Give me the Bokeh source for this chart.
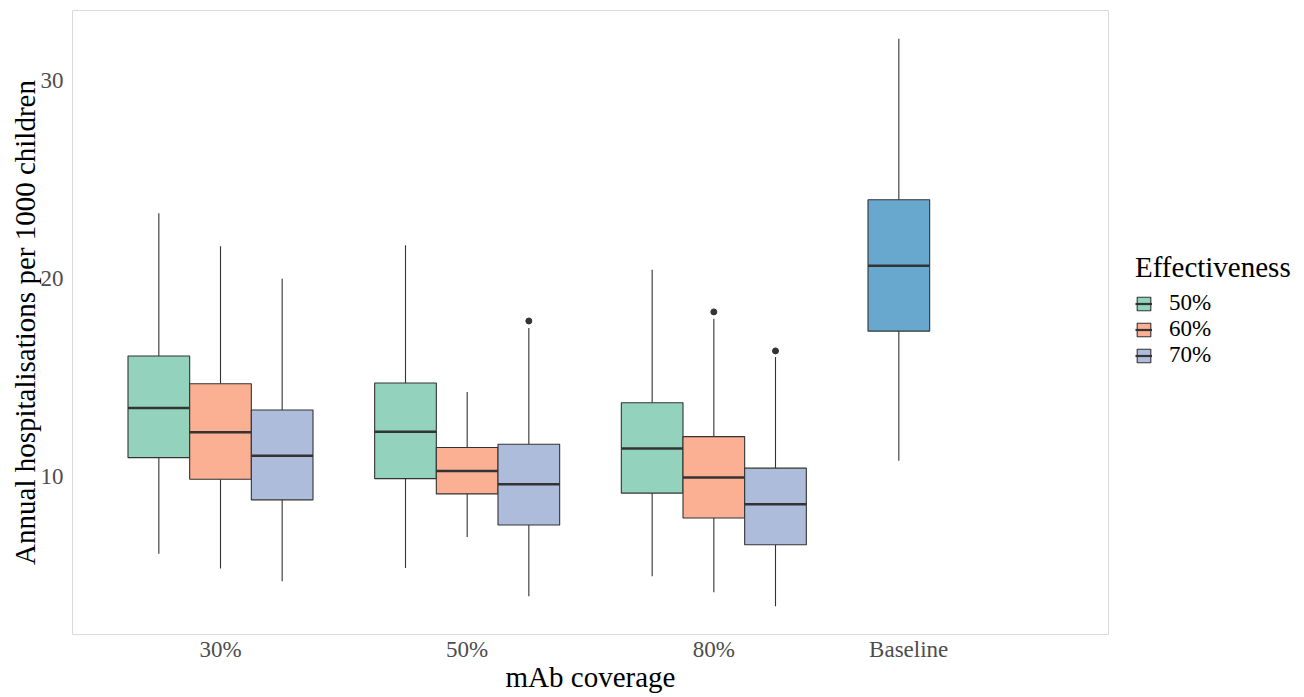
from bokeh.plotting import figure
from bokeh.layouts import row
from bokeh.models import ColumnDataSource, Range1d, FixedTicker, Legend, LegendItem
from bokeh.embed import file_html
from bokeh.resources import INLINE

# ---- data ----
coverage = ["30%", "50%", "80%", "Baseline"]
effectiveness = ["50%", "60%", "70%"]
box_cov = ["30%", "30%", "30%", "50%", "50%", "50%", "80%", "80%", "80%", "Baseline"]
box_eff = ["50%", "60%", "70%", "50%", "60%", "70%", "50%", "60%", "70%", "Baseline"]
whisk_lo = [6.12, 5.37, 4.73, 5.40, 6.96, 3.97, 4.98, 4.17, 3.47, 10.81]
q1 = [10.97, 9.88, 8.84, 9.91, 9.14, 7.57, 9.18, 7.92, 6.57, 17.36]
med = [13.48, 12.25, 11.07, 12.28, 10.30, 9.63, 11.43, 9.97, 8.62, 20.66]
q3 = [16.10, 14.70, 13.38, 14.74, 11.48, 11.65, 13.74, 12.03, 10.44, 23.99]
whisk_hi = [23.31, 21.65, 20.01, 21.69, 14.28, 17.52, 20.46, 17.98, 16.05, 32.12]
out_cov = ["50%", "80%", "80%"]
out_eff = ["70%", "60%", "70%"]
out_val = [17.87, 18.33, 16.36]
y_ticks = [10, 20, 30]

colors = {"50%": "#93D3BE", "60%": "#FBB093", "70%": "#AEBCDC", "Baseline": "#68A8CF"}

BOX_W = 0.25


def xpos(cov, eff):
    base = coverage.index(cov) + 1
    if eff == "Baseline":
        # dodge with preserve="single": the lone box takes the left slot
        return base - BOX_W
    return base + (effectiveness.index(eff) - 1) * BOX_W


FONT = "Liberation Serif"

p = figure(width=1109, height=697, x_range=Range1d(0.4, 4.6), y_range=Range1d(2.04, 33.55),
           output_backend="svg", toolbar_location=None,
           min_border_left=72, min_border_right=1, min_border_top=10, min_border_bottom=63)

for eff in effectiveness + ["Baseline"]:
    idx = [i for i, e in enumerate(box_eff) if e == eff]
    xs = [xpos(box_cov[i], eff) for i in idx]
    src = ColumnDataSource(dict(
        x=xs,
        x0=[x - BOX_W / 2 for x in xs],
        x1=[x + BOX_W / 2 for x in xs],
        lo=[whisk_lo[i] for i in idx],
        q1=[q1[i] for i in idx],
        med=[med[i] for i in idx],
        q3=[q3[i] for i in idx],
        hi=[whisk_hi[i] for i in idx],
    ))
    p.segment(x0="x", y0="q3", x1="x", y1="hi", source=src, line_color="#333333", line_width=1.1)
    p.segment(x0="x", y0="lo", x1="x", y1="q1", source=src, line_color="#333333", line_width=1.1)
    p.vbar(x="x", width=BOX_W, bottom="q1", top="q3", source=src,
           fill_color=colors[eff], line_color="#333333", line_width=1.1)
    p.segment(x0="x0", y0="med", x1="x1", y1="med", source=src,
              line_color="#333333", line_width=2.6)

osrc = ColumnDataSource(dict(x=[xpos(c, e) for c, e in zip(out_cov, out_eff)], y=out_val))
p.scatter(x="x", y="y", source=osrc, size=6, color="#333333")

# axes
p.xaxis.ticker = FixedTicker(ticks=[1, 2, 3, 3.79])
p.xaxis.major_label_overrides = {1: "30%", 2: "50%", 3: "80%", 3.79: "Baseline"}
p.yaxis.ticker = FixedTicker(ticks=y_ticks)
p.xaxis.axis_label = "mAb coverage"
p.yaxis.axis_label = "Annual hospitalisations per 1000 children"
for ax in (p.xaxis, p.yaxis):
    ax.axis_line_color = None
    ax.major_tick_line_color = None
    ax.minor_tick_line_color = None
    ax.major_label_text_font = FONT
    ax.major_label_text_font_size = "23px"
    ax.major_label_text_color = "#4D4D4D"
    ax.axis_label_text_font = FONT
    ax.axis_label_text_font_size = "29px"
    ax.axis_label_text_font_style = "normal"
    ax.axis_label_text_color = "black"
p.xaxis.major_label_standoff = -4
p.xaxis.axis_label_standoff = -4
p.yaxis.major_label_standoff = 3
p.yaxis.axis_label_standoff = -3

p.grid.grid_line_color = None
p.outline_line_color = "#D9D9D9"
p.outline_line_width = 1
p.background_fill_color = "white"
p.border_fill_color = "white"

# legend drawn in a companion figure at the right of the panel
lf = figure(width=195, height=697, x_range=Range1d(0, 1), y_range=Range1d(0, 1),
            output_backend="svg", toolbar_location=None, x_axis_type=None, y_axis_type=None,
            min_border=0)
lf.outline_line_color = None
lf.grid.grid_line_color = None
items = []
for eff in effectiveness:
    # one key per level; the key's data sits outside this helper figure's visible range
    esrc = ColumnDataSource(dict(x=[5], top=[5], bottom=[4], x0=[4], x1=[5], y=[5]))
    vb = lf.vbar(x="x", width=0.1, top="top", bottom="bottom", source=esrc,
                 fill_color=colors[eff], line_color="#333333", line_width=1.1)
    ms = lf.segment(x0="x0", y0="y", x1="x1", y1="y", source=esrc,
                    line_color="#333333", line_width=2.2)
    items.append(LegendItem(label=eff, renderers=[vb, ms]))

legend = Legend(items=items, location=(26, 266), title="Effectiveness",
                title_text_font=FONT, title_text_font_size="29px", title_text_font_style="normal",
                title_text_color="black", title_standoff=6,
                label_text_font=FONT, label_text_font_size="23px", label_text_color="black",
                glyph_width=17, glyph_height=17, label_standoff=17, spacing=-2,
                label_height=20, padding=0, margin=0,
                border_line_color=None, background_fill_alpha=0)
lf.add_layout(legend, "center")

layout = row(p, lf)
open("out.html", "w").write(file_html(layout, INLINE))
